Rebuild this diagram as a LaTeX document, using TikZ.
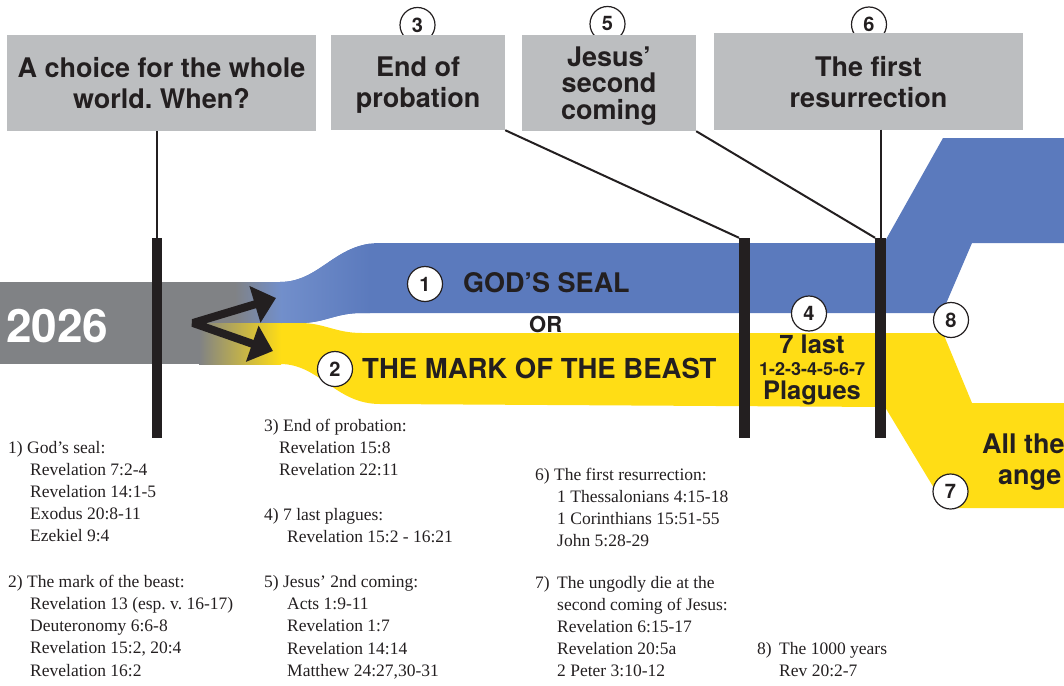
\documentclass[tikz,border=0pt]{standalone}
\usepackage{fontspec}
\setmainfont{Liberation Serif}
\newfontfamily\hv{TeX Gyre Heros}
\usetikzlibrary{arrows.meta}
\definecolor{ink}{RGB}{35,31,32}
\definecolor{boxgray}{RGB}{188,190,192}
\definecolor{bandgray}{RGB}{128,130,133}
\definecolor{sealblue}{RGB}{91,122,189}
\definecolor{lightblue}{RGB}{114,143,203}
\definecolor{beastyellow}{RGB}{255,221,21}
\frenchspacing
\begin{document}
\frenchspacing
\begin{tikzpicture}[x=1pt,y=-1pt,
  graybox/.style={fill=boxgray, inner sep=0pt, text=ink, align=center, text depth=0pt,
    font=\hv\bfseries\fontsize{27}{31}\selectfont},
  numc/.style={circle, draw=ink, line width=1.2pt, fill=white, minimum size=35pt, inner sep=0pt,
    text=ink, font=\hv\bfseries\fontsize{20}{20}\selectfont},
  barbox/.style={fill=ink, inner sep=0pt, minimum width=10.5pt, minimum height=200pt},
  conn/.style={draw=ink, line width=2pt},
  fatarrow/.style={draw=ink, line width=8pt, line join=bevel,
    {Triangle[length=22pt,width=37pt]}-{Triangle[length=22pt,width=37pt]}},
  reftxt/.style={anchor=base west, inner sep=0pt, text=ink, font=\fontsize{17.5}{20}\selectfont},
  bandtxt/.style={anchor=base west, inner sep=0pt, text=ink, font=\hv\bfseries\fontsize{27.5}{30}\selectfont},
  plgtxt/.style={anchor=base, inner sep=0pt, text=ink, font=\hv\bfseries\fontsize{25.5}{28}\selectfont}
]
\useasboundingbox (0,0) rectangle (1064,685);
\clip (0,0) rectangle (1064,685);

% ---- bands ----
\def\bluepath{(250,282) -- (280,282) .. controls (320,282) and (335,243) .. (380,243)
  -- (884,243) -- (943,138) -- (1064,138) -- (1064,243) -- (972,243) -- (942,313)
  -- (362,313) .. controls (335,313) and (325,323) .. (300,323) -- (250,323) -- cycle}
\fill[sealblue] \bluepath;
\begin{scope}
  \clip \bluepath;
  \shade[left color=lightblue, right color=sealblue] (280,235) rectangle (370,330);
\end{scope}
\fill[beastyellow] (250,323) -- (300,323) .. controls (325,323) and (335,333) .. (362,333)
  -- (943,333) -- (972,403) -- (1064,403) -- (1064,508) -- (946,508) -- (885,407)
  -- (380,404) .. controls (335,404) and (320,364) .. (280,364) -- (250,364) -- cycle;
\fill[bandgray] (0,282) rectangle (236,323);
\fill[bandgray] (0,323) rectangle (200,364);
\shade[left color=bandgray, right color=lightblue] (235,282) rectangle (281,323);
\shade[left color=bandgray, right color=beastyellow] (199,323) rectangle (281,364);

\node[anchor=base west, inner sep=0pt, text=white, font=\hv\bfseries\fontsize{46}{50}\selectfont] (year) at (6,342) {2026};

% ---- circles behind the boxes ----
\node[numc] (n3) at (417.5,25) {3};
\node[numc] (n5) at (607.5,24) {5};
\node[numc] (n6) at (869,24.5) {6};

% ---- boxes ----
\node[graybox, minimum width=309pt, minimum height=96pt] (boxA) at (161.5,83) {A choice for the whole\\world. When?};
\node[graybox, minimum width=174pt, minimum height=95pt] (boxB) at (418,82.5) {End of\\probation};
\node[graybox, minimum width=174pt, minimum height=96pt, font=\hv\bfseries\fontsize{27}{26.5}\selectfont] (boxC) at (609,83) {Jesus’\\second\\coming};
\node[graybox, minimum width=309pt, minimum height=96pt] (boxD) at (868.5,81.5) {The first\\resurrection};

% ---- bars ----
\node[barbox] (bar1) at (157,338) {};
\node[barbox] (bar2) at (744.5,338) {};
\node[barbox] (bar3) at (880.5,338) {};

% ---- connectors ----
\draw[conn] (boxA.south -| bar1.north) -- (bar1.north);
\draw[conn] (boxB.south east) -- (bar2.north west);
\draw[conn] (boxC.south east) -- (bar3.north west);
\draw[conn] (boxD.south -| bar3.north) -- (bar3.north);

% ---- arrows ----
\coordinate (av) at (193,323);
\coordinate (at1) at (276,298);
\coordinate (at2) at (273,351);
\draw[fatarrow] (at1) -- (av) -- (at2);

% ---- band texts ----
\node[bandtxt, font=\hv\bfseries\fontsize{27}{30}\selectfont] (seal) at (463,292) {GOD’S SEAL};
\node[bandtxt, font=\hv\bfseries\fontsize{22}{24}\selectfont] (or) at (529,332) {OR};
\node[bandtxt] (beast) at (362,378) {THE MARK OF THE BEAST};
\node[plgtxt] (p1) at (812,353) {7 last};
\node[plgtxt, font=\hv\bfseries\fontsize{18}{20}\selectfont] (p2) at (812,375) {1-2-3-4-5-6-7};
\node[plgtxt] (p3) at (812,399) {Plagues};
\node[bandtxt, font=\hv\bfseries\fontsize{27}{30}\selectfont] (allthe) at (982,453) {All the};
\node[bandtxt, font=\hv\bfseries\fontsize{27}{30}\selectfont] (ange) at (998,484) {ange};

% ---- number circles on bands ----
\node[numc] (n1) at (425,284) {1};
\node[numc] (n2) at (335,369) {2};
\node[numc] (n4) at (809,313.5) {4};
\node[numc] (n8) at (951,320) {8};
\node[numc] (n7) at (950.5,491.5) {7};

% ---- references ----
\foreach \x/\y/\t [count=\i] in {
  8/453/{1) God’s seal:}, 30/475/{Revelation 7:2-4}, 30/497/{Revelation 14:1-5},
  30/519/{Exodus 20:8-11}, 30/541/{Ezekiel 9:4},
  8/587/{2) The mark of the beast:}, 30/609/{Revelation 13 (esp. v. 16-17)},
  30/631/{Deuteronomy 6:6-8}, 30/653/{Revelation 15:2, 20:4}, 30/676/{Revelation 16:2},
  264/431/{3) End of probation:}, 279/453/{Revelation 15:8}, 279/475/{Revelation 22:11},
  264/520/{4) 7 last plagues:}, 287/542/{Revelation 15:2 - 16:21},
  264/587/{5) Jesus’ 2nd coming:}, 287/609/{Acts 1:9-11}, 287/631/{Revelation 1:7},
  287/654/{Revelation 14:14}, 287/676/{Matthew 24:27,30-31},
  535/480/{6) The first resurrection:}, 557/502/{1 Thessalonians 4:15-18},
  557/524/{1 Corinthians 15:51-55}, 557/546/{John 5:28-29},
  535/588/{\makebox[22pt][l]{7)}The ungodly die at the}, 557/610/{second coming of Jesus:},
  557/632/{Revelation 6:15-17}, 557/654/{Revelation 20:5a}, 557/676/{2 Peter 3:10-12},
  757/654/{\makebox[22pt][l]{8)}The 1000 years}, 779/676/{Rev 20:2-7}}
  \node[reftxt] (ref\i) at (\x,\y) {\t};
\end{tikzpicture}
\end{document}
